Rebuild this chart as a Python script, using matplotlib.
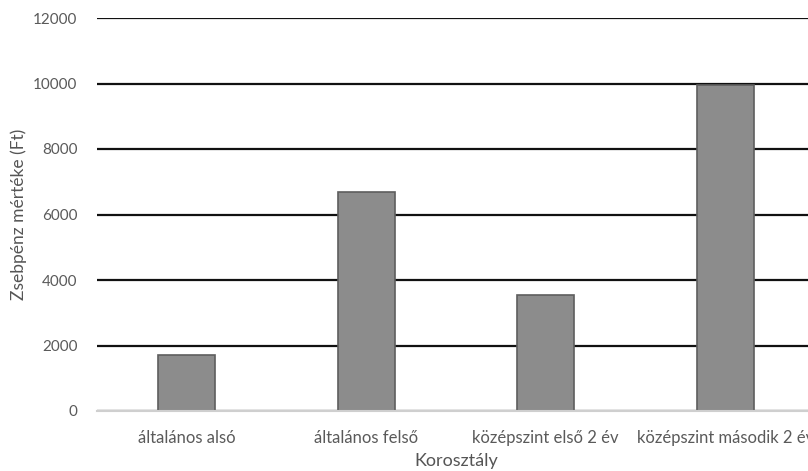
import matplotlib
matplotlib.use("Agg")
import matplotlib.pyplot as plt

categories = ["általános alsó", "általános felső", "középszint első 2 év", "középszint második 2 év"]
values = [1700, 6700, 3550, 9960]
yticks = [0, 2000, 4000, 6000, 8000, 10000, 12000]

plt.rcParams["font.family"] = ["Lato", "DejaVu Sans"]

fig = plt.figure(figsize=(8.08, 4.71), dpi=100)
# the plot area runs past the right edge, as in the source image
ax = fig.add_axes([97 / 808, 60 / 471, 718 / 808, 393 / 471])

x = range(len(categories))
ax.bar(x, values, width=0.32, color="#8c8c8c", edgecolor="#5e5e5e",
       linewidth=1.2, zorder=3)

ax.set_ylim(0, 12000)
ax.set_xlim(-0.5, len(categories) - 0.5)
ax.set_yticks(yticks)
ax.set_xticks(list(x))
ax.set_xticklabels(categories)
ax.yaxis.grid(True, color="#111111", linewidth=1.6, zorder=0)
ax.set_axisbelow(True)

for side in ("top", "right", "left"):
    ax.spines[side].set_visible(False)
ax.spines["bottom"].set_color("#cfcfcf")
ax.spines["bottom"].set_linewidth(1.5)
ax.spines["bottom"].set_zorder(4)

ax.tick_params(axis="both", length=0, colors="#5a5a5a")
ax.tick_params(axis="y", pad=14, labelsize=11)
ax.tick_params(axis="x", pad=14, labelsize=12)

ax.set_ylabel("Zsebpénz mértéke (Ft)", fontsize=12.5, color="#555555")
ax.yaxis.set_label_coords(-0.098, 0.5)
ax.set_xlabel("Korosztály", fontsize=13, color="#555555", labelpad=5)

fig.savefig("out.png", dpi=100, facecolor="white")
